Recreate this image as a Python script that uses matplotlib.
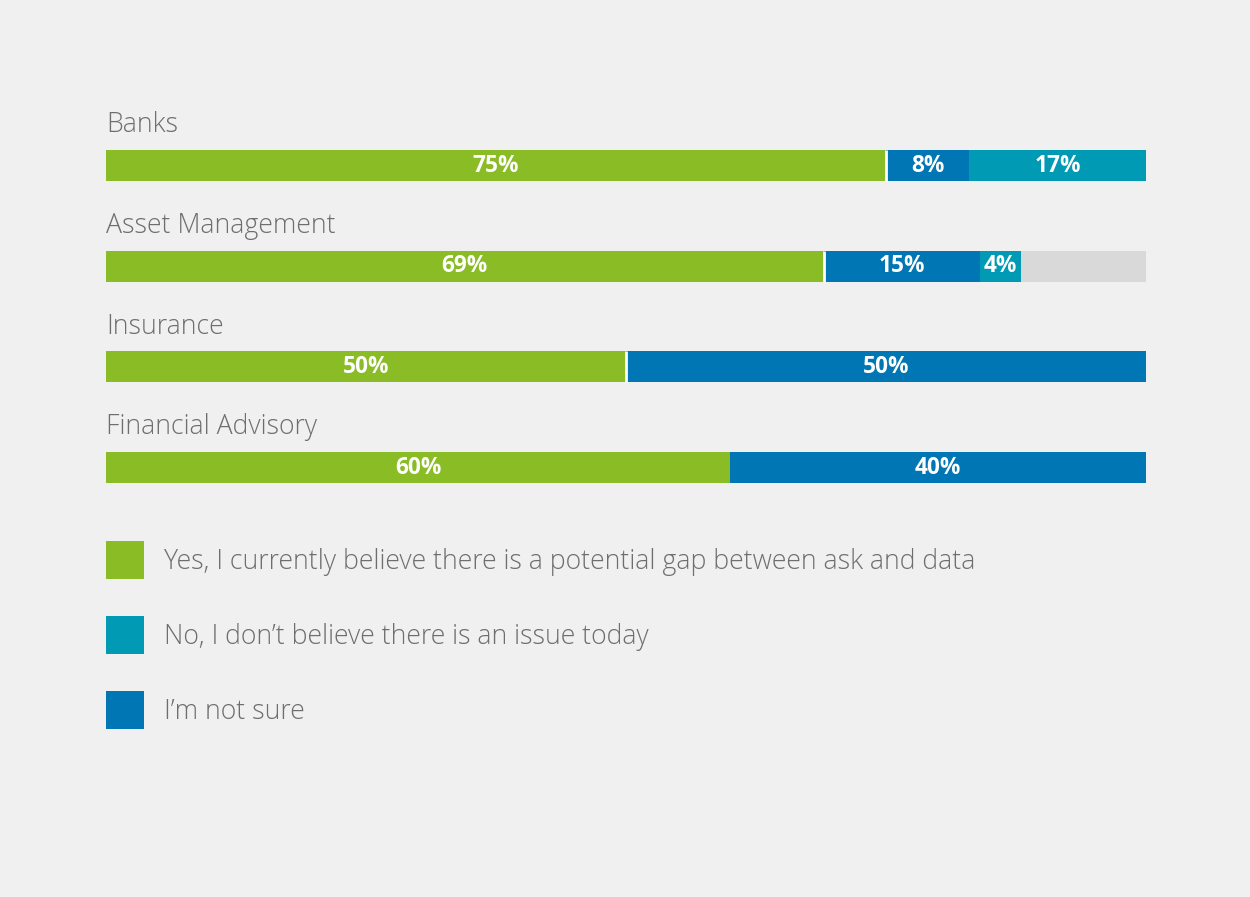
import matplotlib
matplotlib.use('Agg')
import matplotlib.pyplot as plt
from matplotlib.patches import Patch
import numpy as np

# data
sectors = ['Banks', 'Asset Management', 'Insurance', 'Financial Advisory']
yes_gap = [75, 69, 50, 60]
not_sure = [8, 15, 50, 40]
no_issue = [17, 4, 0, 0]
no_answer = [0, 12, 0, 0]

legend_labels = ['Yes, I currently believe there is a potential gap between ask and data',
                 'No, I don\u2019t believe there is an issue today',
                 'I\u2019m not sure']

green = '#8ABC26'
blue = '#0076B4'
teal = '#009AB4'
grey = '#D9D9D9'
bg = '#F0F0F0'
txt = '#6E6E6E'

plt.rcParams['font.family'] = ['Open Sans', 'DejaVu Sans']

W, H = 1250, 897
fig = plt.figure(figsize=(W / 100, H / 100), dpi=100, facecolor=bg)

# axes: x 0..100 spans the bar area, one unit in y per row
row_px = 100.67
top_px = 165.5 - 1.5 * row_px
ax = fig.add_axes([106 / W, 1 - (top_px + 5 * row_px) / H, 1040 / W, 5 * row_px / H])
ax.set_facecolor(bg)
ax.set_xlim(0, 100)
ax.set_ylim(3.5, -1.5)
ax.axis('off')

y = np.arange(len(sectors))
bh = 0.31
series = [(yes_gap, green), (not_sure, blue), (no_issue, teal), (no_answer, grey)]
left = np.zeros(len(sectors))
for vals, col in series:
    vals = np.array(vals, dtype=float)
    ax.barh(y, vals, left=left, height=bh, color=col, edgecolor='none')
    if col != grey:
        for yi, l, v in zip(y, left, vals):
            if v > 0:
                ax.text(l + v / 2, yi, f'{int(v)}%', ha='center', va='center',
                        color='white', fontsize=16.3, fontweight='bold')
    left += vals

# thin white separator after the green segment
for yi, g in zip(y[:3], yes_gap[:3]):
    ax.vlines(g, yi - bh / 2, yi + bh / 2, color='white', lw=2)

for yi, name in zip(y, sectors):
    ax.text(0, yi - 0.33, name, ha='left', va='baseline', color=txt,
            fontsize=19.2, fontweight='light')

handles = [Patch(facecolor=green), Patch(facecolor=teal), Patch(facecolor=blue)]
fig.legend(handles, legend_labels, loc='upper left',
           bbox_to_anchor=(106 / W, 1 - 541 / H), frameon=False,
           prop={'size': 19.2, 'weight': 'light'}, labelcolor=txt,
           handlelength=1.42, handleheight=1.81, handletextpad=0.75,
           labelspacing=1.4, borderpad=0, borderaxespad=0)

fig.savefig('out.png', dpi=100, facecolor=bg)
